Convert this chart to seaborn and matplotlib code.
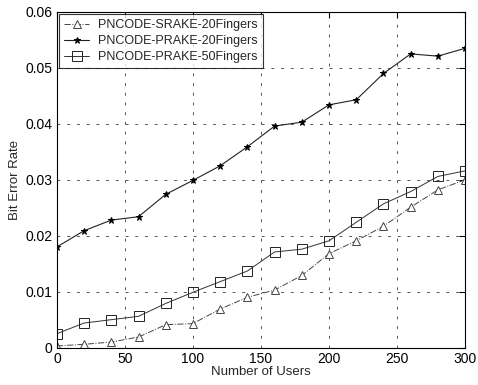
import matplotlib
matplotlib.use("Agg")
import matplotlib.pyplot as plt
import seaborn as sns
import pandas as pd

users = [0, 20, 40, 60, 80, 100, 120, 140, 160, 180, 200, 220, 240, 260, 280, 300]
srake20 = [0.0003, 0.0006, 0.0010, 0.0019, 0.0041, 0.0043, 0.0069, 0.0090, 0.0103, 0.0129,
           0.0168, 0.0191, 0.0217, 0.0251, 0.0282, 0.0300]
prake20 = [0.0180, 0.0209, 0.0228, 0.0234, 0.0274, 0.0299, 0.0325, 0.0359, 0.0396, 0.0403,
           0.0434, 0.0443, 0.0490, 0.0525, 0.0521, 0.0535]
prake50 = [0.0025, 0.0044, 0.0050, 0.0056, 0.0079, 0.0099, 0.0118, 0.0137, 0.0171, 0.0176,
           0.0191, 0.0224, 0.0257, 0.0279, 0.0306, 0.0316]
names = ["PNCODE-SRAKE-20Fingers", "PNCODE-PRAKE-20Fingers", "PNCODE-PRAKE-50Fingers"]
xticks = [0, 50, 100, 150, 200, 250, 300]
yticks = [0, 0.01, 0.02, 0.03, 0.04, 0.05, 0.06]
ytick_labels = ["0", "0.01", "0.02", "0.03", "0.04", "0.05", "0.06"]

sns.set_style("white")
plt.rcParams['font.family'] = ['Liberation Sans', 'DejaVu Sans']

fig = plt.figure(figsize=(4.78, 3.85), dpi=100)
ax = fig.add_axes([0.119, 0.097, 0.854, 0.872])

styles = [
    dict(marker='^', linestyle='-.', ms=5.5, mfc='white', mec='#444444', color='#444444', lw=0.7),
    dict(marker='*', linestyle='-', ms=5, mfc='black', mec='black', color='#222222', lw=0.8),
    dict(marker='s', linestyle='-', ms=6.5, mfc='none', mec='#222222', color='#333333', lw=0.7),
]
for name, vals, st in zip(names, [srake20, prake20, prake50], styles):
    df = pd.DataFrame({"users": users, "ber": vals})
    sns.lineplot(data=df, x="users", y="ber", ax=ax, label=name,
                 marker=st['marker'], linestyle=st['linestyle'], markersize=st['ms'],
                 markerfacecolor=st['mfc'], markeredgecolor=st['mec'], markeredgewidth=0.7,
                 color=st['color'], linewidth=st['lw'])

ax.set_xlim(0, 300)
ax.set_ylim(0, 0.06)
ax.set_xticks(xticks)
ax.set_yticks(yticks)
ax.set_yticklabels(ytick_labels)
ax.tick_params(direction='in', length=4, labelsize=10, colors='black', top=True, right=True, pad=3)
ax.grid(True, linestyle=(0, (3, 7)), color='#555555', linewidth=0.7)
for s in ax.spines.values():
    s.set_color('black')
    s.set_linewidth(0.8)
ax.set_xlabel("Number of Users", fontsize=9.5, labelpad=0)
ax.set_ylabel("Bit Error Rate", fontsize=9.5, labelpad=3)
leg = ax.legend(loc='upper left', fontsize=9, frameon=True, fancybox=False,
                edgecolor='black', borderaxespad=0.2, handlelength=2.0, handletextpad=0.7,
                labelspacing=0.3, borderpad=0.4)
leg.get_frame().set_linewidth(0.8)

fig.savefig("out.png", dpi=100)
